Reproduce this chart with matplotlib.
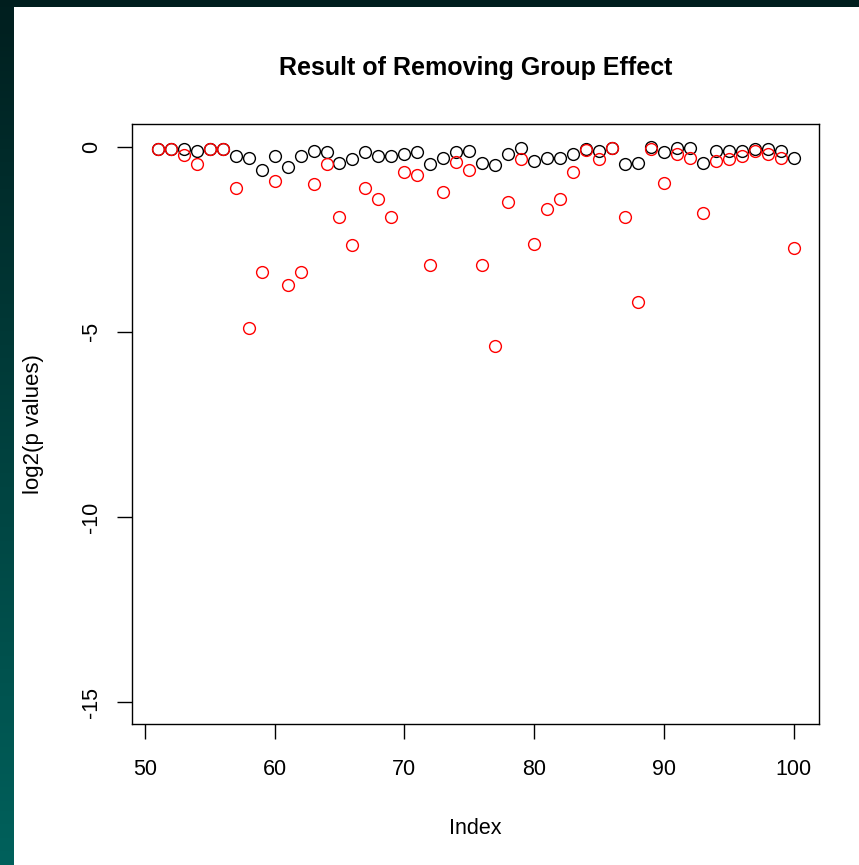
import numpy as np
import matplotlib.pyplot as plt
from matplotlib.patches import Rectangle

plt.rcParams['font.family'] = ['Liberation Sans', 'DejaVu Sans']

# index of the tests shown
idx = np.arange(51, 101)

# log2 p values before removing the group effect (black)
before = [-0.08, -0.08, -0.06, -0.13, -0.06, -0.08, -0.26, -0.30, -0.64, -0.25,
          -0.55, -0.25, -0.11, -0.16, -0.45, -0.35, -0.15, -0.25, -0.25, -0.20,
          -0.16, -0.48, -0.30, -0.15, -0.11, -0.45, -0.49, -0.20, -0.05, -0.40,
          -0.30, -0.30, -0.20, -0.06, -0.13, -0.04, -0.47, -0.45, -0.02, -0.15,
          -0.05, -0.05, -0.45, -0.11, -0.11, -0.11, -0.06, -0.06, -0.11, -0.30]

# log2 p values after removing the group effect (red)
after = [-0.08, -0.08, -0.24, -0.48, -0.06, -0.08, -1.13, -4.90, -3.40, -0.93,
         -3.73, -3.40, -1.02, -0.48, -1.89, -2.67, -1.13, -1.41, -1.89, -0.69,
         -0.78, -3.20, -1.22, -0.41, -0.64, -3.20, -5.38, -1.50, -0.35, -2.62,
         -1.70, -1.41, -0.69, -0.09, -0.35, -0.04, -1.89, -4.20, -0.06, -0.98,
         -0.20, -0.30, -1.79, -0.39, -0.35, -0.26, -0.11, -0.20, -0.30, -2.75]

xticks = [50, 60, 70, 80, 90, 100]
yticks = [0, -5, -10, -15]

W, H = 859, 865
fig = plt.figure(figsize=(W / 100, H / 100), dpi=100)

# dark teal window frame on the left and top
bg = fig.add_axes([0, 0, 1, 1])
grad = np.linspace(0, 1, 256)[:, None, None]
top = np.array([0.0, 0.12, 0.12])
bot = np.array([0.0, 0.38, 0.36])
img = top + grad * (bot - top)
bg.imshow(img, extent=(0, W, H, 0), aspect='auto')
bg.add_patch(Rectangle((14, 7), W - 14, H - 7, color='white', lw=0))
bg.set_xlim(0, W)
bg.set_ylim(H, 0)
bg.axis('off')

ax = fig.add_axes([132.3 / W, 1 - 724.3 / H, (819.3 - 132.3) / W, (724.3 - 124.3) / H])
ax.plot(idx, before, 'o', mfc='none', mec='black', ms=8.5, mew=1.0)
ax.plot(idx, after, 'o', mfc='none', mec='red', ms=8.5, mew=1.0)

ax.set_xlim(49.04, 101.96)
ax.set_ylim(-15.6, 0.6)
ax.set_xticks(xticks)
ax.set_yticks(yticks)
ax.set_xticklabels([str(v) for v in xticks])
ax.set_yticklabels([str(v) for v in yticks], rotation=90, va='center')
ax.tick_params(direction='out', length=11, width=1.0, labelsize=15.5)
ax.tick_params(axis='x', pad=14)
ax.tick_params(axis='y', pad=11)
for s in ax.spines.values():
    s.set_linewidth(1.0)

fig.text(476 / W, 1 - 68 / H, 'Result of Removing Group Effect',
         ha='center', va='center', fontsize=18, fontweight='bold')
fig.text(475.7 / W, 1 - 828 / H, 'Index', ha='center', va='center', fontsize=15.5)
fig.text(34 / W, 1 - 424 / H, 'log2(p values)', ha='center', va='center',
         rotation=90, fontsize=16)

fig.savefig('out.png', dpi=100)
